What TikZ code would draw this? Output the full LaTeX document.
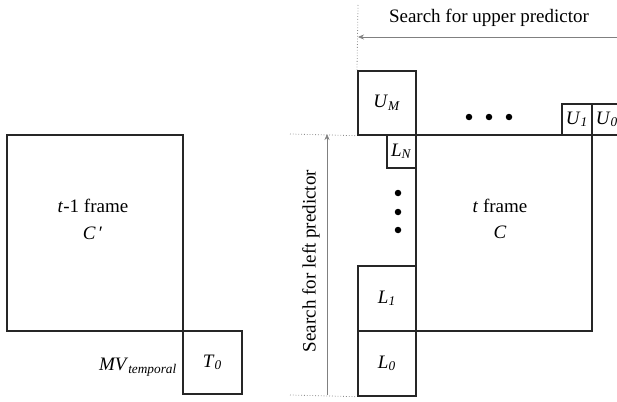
\documentclass[tikz,border=0pt]{standalone}
\usepackage{fontspec}
\setmainfont{Liberation Serif}
\usetikzlibrary{arrows.meta}
\newcommand{\lbl}[2]{\textit{#1}\textsubscript{\textit{#2}}}
\begin{document}
\begin{tikzpicture}[x=1pt,y=-1pt,
  font=\fontsize{19}{22}\selectfont,
  bigframe/.style={draw=black!85, line width=2pt, rectangle, inner sep=0pt, anchor=north west, minimum width=176pt, minimum height=196pt},
  blk/.style={draw=black!85, line width=1.7pt, rectangle, inner sep=0pt, anchor=north west},
  guide/.style={draw=black!45, line width=0.8pt, dotted},
  searcharrow/.style={draw=black!50, line width=0.6pt, -{Stealth[length=6pt,width=5pt]}},
  dot/.style={circle, fill=black, inner sep=0pt, minimum size=6.5pt},
  txt/.style={inner sep=0pt}]
\useasboundingbox (0,0) rectangle (617,401);
% frames
\node[bigframe] (Cp) at (6,134) {};
\node[bigframe] (C) at (415,134) {};
\node[txt] (tlabel1) at (93,206) {\textit{t}-1 frame};
\node[txt] (clabel1) at (93,233) {\textit{C}\,′};
\node[txt] (tlabel2) at (500,206) {\textit{t} frame};
\node[txt] (clabel2) at (500,232) {\textit{C}};
% temporal block
\node[blk, minimum width=59pt, minimum height=63pt] (T0) at (182,330) {\lbl{T}{0}};
\node[txt, anchor=east] (mv) at (177,367) {\lbl{MV}{temporal}};
% upper blocks
\node[blk, minimum width=58pt, minimum height=64pt] (UM) at (357,70) {\lbl{U}{M}};
\node[blk, minimum width=30pt, minimum height=31pt] (U1) at (561,103) {\lbl{U}{1}};
\node[blk, minimum width=34pt, minimum height=31pt] (U0) at (591,103) {\lbl{U}{0}\hspace*{4pt}};
% left blocks
\node[blk, minimum width=29pt, minimum height=33pt] (LN) at (386,134) {\lbl{L}{N}};
\node[blk, minimum width=58pt, minimum height=65pt] (L1) at (357,265) {\lbl{L}{1}};
\node[blk, minimum width=58pt, minimum height=65pt] (L0) at (357,330) {\lbl{L}{0}};
% dots
\node[dot] (h1) at (469,117) {};
\node[dot] (h2) at (489,117) {};
\node[dot] (h3) at (509,117) {};
\node[dot] (v1) at (398,193) {};
\node[dot] (v2) at (398,212) {};
\node[dot] (v3) at (398,230) {};
% guides
\coordinate (gtop) at (358,5);
\coordinate (gl1) at (290,134);
\coordinate (gl2) at (290,395);
\draw[guide] (gtop) -- (UM.north west);
\draw[guide] (gl1) -- (UM.south west);
\draw[guide] (gl2) -- (L0.south west);
% search arrows
\coordinate (ua1) at (617,37);
\coordinate (ua2) at (358,37);
\draw[searcharrow] (ua1) -- (ua2);
\coordinate (la1) at (327,395);
\coordinate (la2) at (327,134);
\draw[searcharrow] (la1) -- (la2);
\node[txt] (upper) at (489,18) {Search for upper predictor};
\node[txt, rotate=90] (left) at (311,261) {Search for left predictor};
\end{tikzpicture}
\end{document}
